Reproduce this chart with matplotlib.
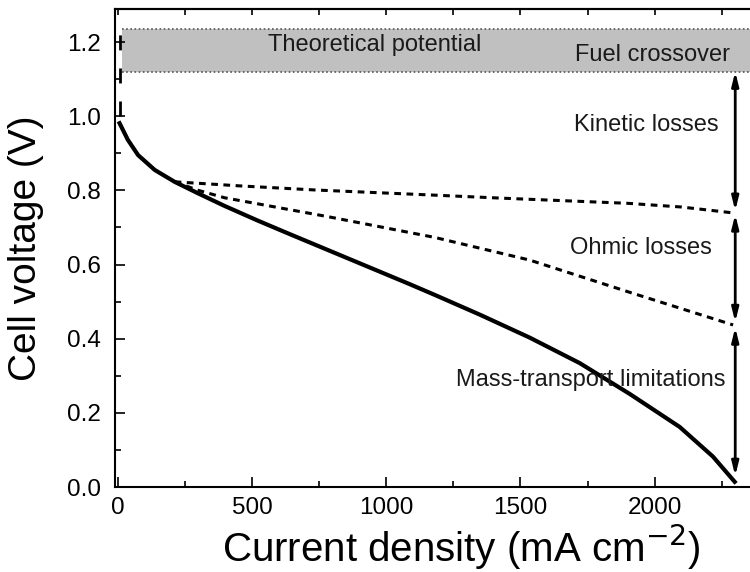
import numpy as np
import matplotlib
matplotlib.use('Agg')
import matplotlib.pyplot as plt
from matplotlib.ticker import MultipleLocator

plt.rcParams['font.family'] = ['Liberation Sans', 'DejaVu Sans']

# ------------------------------- DATA ----------------------------------------
# polarisation curve (mA cm-2, V)
j_cell = [7, 38, 76, 138, 212, 299, 398, 523, 634, 783, 932, 1081, 1181,
          1348, 1534, 1721, 1907, 2093, 2217, 2298]
v_cell = [0.981, 0.936, 0.895, 0.855, 0.823, 0.792, 0.758, 0.718, 0.684,
          0.639, 0.594, 0.549, 0.518, 0.465, 0.403, 0.334, 0.251, 0.162,
          0.082, 0.014]

# kinetic-only line (upper dashed)
j_kin = [212, 455, 734, 1181, 1427, 1900, 2100, 2294]
v_kin = [0.823, 0.812, 0.801, 0.787, 0.779, 0.765, 0.755, 0.739]

# kinetic + ohmic line (lower dashed)
j_ohm = [212, 300, 398, 783, 1181, 1534, 1907, 2292]
v_ohm = [0.823, 0.80, 0.780, 0.729, 0.673, 0.612, 0.525, 0.437]

band_low, band_high = 1.12, 1.235   # theoretical potential / fuel crossover band
band_start = 17

arrow_x = 2300
arrow_spans = [(1.12, 0.745), (0.735, 0.445), (0.43, 0.03)]

labels = ['Theoretical potential', 'Fuel crossover', 'Kinetic losses',
          'Ohmic losses', 'Mass-transport limitations']
label_pos = [(957, 1.192), (1993, 1.165), (1967, 0.976), (1948, 0.645),
             (1762, 0.289)]

# ------------------------------- FIGURE --------------------------------------
fig = plt.figure(figsize=(7.5, 5.72), dpi=100)
ax = fig.add_axes([115 / 750, 1 - 487 / 572, 1 - 115 / 750, (487 - 9) / 572])

ax.set_xlim(-10, 2355)
ax.set_ylim(0, 1.289)

# gray band with dotted borders
ax.fill_between([band_start, 2400], band_low, band_high, color='#c0c0c0',
                lw=0, zorder=1)
for yb in (band_low, band_high):
    ax.plot([band_start, 2400], [yb, yb], ls=(0, (1, 1.5)), color='#555555',
            lw=1.2, zorder=2)

# short dashed marker near the ordinate
ax.plot([8, 8], [1.0, band_high], color='black', lw=2,
        dashes=(5.4, 6.5), zorder=3)

# curves
ax.plot(j_kin, v_kin, color='black', lw=2.2, dashes=(2.2, 1.8), zorder=3)
ax.plot(j_ohm, v_ohm, color='black', lw=2.2, dashes=(2.2, 1.8), zorder=3)
ax.plot(j_cell, v_cell, color='black', lw=3, zorder=4,
        solid_joinstyle='round')

# loss arrows
for top, bottom in arrow_spans:
    ax.annotate('', xy=(arrow_x, bottom), xytext=(arrow_x, top),
                arrowprops=dict(arrowstyle='<|-|>,head_length=0.8,head_width=0.2',
                                color='black', lw=2, shrinkA=0, shrinkB=0))

for txt, (x, y) in zip(labels, label_pos):
    ax.text(x, y, txt, ha='center', va='center', fontsize=17,
            color='#1a1a1a', zorder=5)

# ticks
ax.xaxis.set_major_locator(MultipleLocator(500))
ax.xaxis.set_minor_locator(MultipleLocator(250))
ax.yaxis.set_major_locator(MultipleLocator(0.2))
ax.yaxis.set_minor_locator(MultipleLocator(0.1))
ax.tick_params(which='major', direction='in', length=7, width=1.2,
               labelsize=17.5, colors='black')
ax.tick_params(which='minor', direction='in', length=4, width=1.2)
ax.tick_params(axis='x', pad=7)
ax.tick_params(axis='y', pad=10)
ax.yaxis.set_major_formatter(plt.FormatStrFormatter('%.1f'))

top_ax = ax.secondary_xaxis('top')
top_ax.xaxis.set_major_locator(MultipleLocator(250))
top_ax.tick_params(direction='in', length=4, width=1.2, labeltop=False)

for s in ['left', 'bottom', 'top']:
    ax.spines[s].set_linewidth(1.5)
top_ax.spines['top'].set_linewidth(1.5)
ax.spines['right'].set_visible(False)

ax.set_xlabel('Current density (mA cm$^{-2}$)', fontsize=29)
ax.xaxis.set_label_coords(0.545, -0.075)
ax.set_ylabel('Cell voltage (V)', fontsize=28)
ax.yaxis.set_label_coords(-0.112, 0.5)

fig.savefig('out.png', dpi=100)
